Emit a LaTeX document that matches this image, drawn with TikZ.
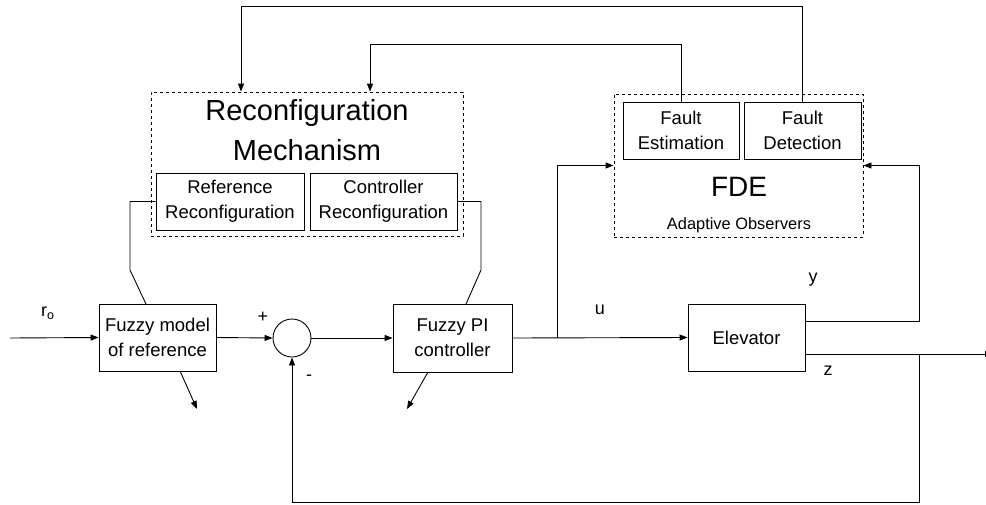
\documentclass[tikz,border=0pt]{standalone}
\usepackage{fontspec}
\setmainfont{Liberation Sans}
\usetikzlibrary{arrows.meta,calc}

\tikzset{
  wire/.style={line width=0.9pt},
  arr/.style={wire,-{Triangle[length=8pt,width=6pt]}},
  block/.style={draw,line width=0.9pt,inner sep=0pt,align=center,font=\fontsize{18.5}{25}\selectfont},
  group/.style={draw,line width=0.9pt,dash pattern=on 3pt off 3pt,inner sep=0pt},
  lbl/.style={inner sep=0pt,font=\fontsize{18}{22}\selectfont}
}

\begin{document}
\begin{tikzpicture}[x=1pt,y=-1pt]
\useasboundingbox[fill=white] (0,0) rectangle (986,504);

% Reconfiguration mechanism group
\node[group,minimum width=312pt,minimum height=144pt] (rcm) at (307,164) {};
\node[inner sep=0pt,align=center,font=\fontsize{29}{40}\selectfont] (rcmtitle) at (307,130) {Reconfiguration\\Mechanism};
\node[block,minimum width=148pt,minimum height=57pt] (refrec) at (230,201.5) {Reference\\Reconfiguration};
\node[block,minimum width=147pt,minimum height=57pt] (ctlrec) at (383.5,201.5) {Controller\\Reconfiguration};

% Fault detection and estimation group
\node[group,minimum width=249pt,minimum height=143pt] (fde) at (738.5,165.5) {};
\node[block,minimum width=116pt,minimum height=57pt] (festim) at (681,130.5) {Fault\\Estimation};
\node[block,minimum width=117pt,minimum height=57pt] (fdetect) at (802.5,130.5) {Fault\\Detection};
\node[inner sep=0pt,font=\fontsize{28}{32}\selectfont] (fdetxt) at (739,187) {FDE};
\node[inner sep=0pt,font=\fontsize{16.4}{20}\selectfont] (obs) at (739,225) {Adaptive Observers};

% Main loop blocks
\node[block,minimum width=117pt,minimum height=67pt] (fmr) at (157.5,337.5) {Fuzzy model\\of reference};
\node[draw,circle,line width=0.9pt,minimum size=38pt,inner sep=0pt] (sum) at (292,338) {};
\node[block,minimum width=119pt,minimum height=68pt] (pi) at (452.5,338) {Fuzzy PI\\controller};
\node[block,minimum width=117pt,minimum height=67pt] (elev) at (746.5,337.5) {Elevator};

% Signal labels
\node[lbl] (lr) at (48,313) {r\textsubscript{o}};
\node[lbl] (lplus) at (263,317) {+};
\node[lbl] (lminus) at (309,378) {-};
\node[lbl] (lu) at (600,310) {u};
\node[lbl] (ly) at (813,280) {y};
\node[lbl] (lz) at (828,371) {z};

% Coordinates for wire routing
\coordinate (in) at (10,338);
\coordinate (top1) at (241,6);
\coordinate (top2) at (370,44);
\coordinate (split) at (557,338);
\coordinate (yout) at (805,321);
\coordinate (ycor) at (919,321);
\coordinate (zout) at (805,354);
\coordinate (zsplit) at (919,354);
\coordinate (zend) at (993,354);
\coordinate (fb) at (919,502.5);
\coordinate (lbend) at (130,270);
\coordinate (lend) at (146,304);
\coordinate (rbend) at (481,270);
\coordinate (rend) at (466,304);
\coordinate (fmrout) at (180,371);
\coordinate (fmrtip) at (197,409);
\coordinate (piout) at (428,372);
\coordinate (pitip) at (407,409);

% Fault signals fed back to the reconfiguration mechanism
\draw[arr] (fdetect.north) |- (top1) -- (top1 |- rcm.north);
\draw[arr] (festim.north) |- (top2) -- (top2 |- rcm.north);

% Reconfiguration actions on the fuzzy blocks
\draw[wire] (refrec.west) -| (lbend) -- (lend);
\draw[wire] (ctlrec.east) -| (rbend) -- (rend);
\draw[arr] (fmrout) -- (fmrtip);
\draw[arr] (piout) -- (pitip);

% Forward path
\draw[arr] (in) -- (fmr.west);
\draw[arr] (fmr.east) -- (sum.west);
\draw[arr] (sum.east) -- (pi.west);
\draw[arr] (pi.east) -- (elev.west);
\draw[arr] (split) |- (fde.west);

% Outputs
\draw[arr] (yout) -- (ycor) |- (fde.east);
\draw[arr] (zout) -- (zend);
\draw[arr] (zsplit) -- (fb) -| (sum.south);
\end{tikzpicture}
\end{document}
